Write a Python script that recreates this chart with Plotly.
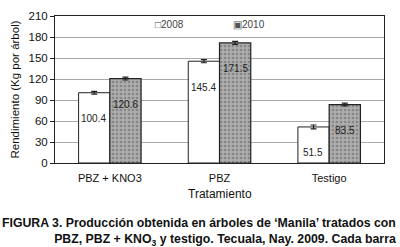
import plotly.graph_objects as go

categories = ["PBZ + KNO3", "PBZ", "Testigo"]
y2008 = [100.4, 145.4, 51.5]
y2010 = [120.6, 171.5, 83.5]
err2008 = [2.0, 2.2, 2.8]
err2010 = [2.0, 2.2, 2.0]
yticks = [0, 30, 60, 90, 120, 150, 180, 210]
series_names = ["2008", "2010"]
label_drop = 37

gray_pattern = dict(shape=".", bgcolor="#adadad", fgcolor="#606060", size=4, solidity=0.35)

fig = go.Figure()
fig.add_trace(go.Bar(
    x=categories, y=y2008, name=series_names[0], showlegend=False,
    marker=dict(color="white", line=dict(color="#222", width=1)),
    error_y=dict(type="data", array=err2008, color="#222", thickness=1.2, width=3),
))
fig.add_trace(go.Bar(
    x=categories, y=y2010, name=series_names[1], showlegend=False,
    marker=dict(color="#9a9a9a", line=dict(color="#222", width=1.2), pattern=gray_pattern),
    error_y=dict(type="data", array=err2010, color="#222", thickness=1.2, width=3),
))

for i, c in enumerate(categories):
    fig.add_annotation(x=c, y=y2008[i] - label_drop, text=f"{y2008[i]:.1f}", showarrow=False,
                       xshift=-16, font=dict(family="Arial", size=10, color="#222"))
    fig.add_annotation(x=c, y=y2010[i] - label_drop, text=f"{y2010[i]:.1f}", showarrow=False,
                       xshift=16, font=dict(family="Arial", size=10, color="#222"))

# legend (compact, marker glued to text as in the original)
fig.add_annotation(xref="paper", yref="paper", x=0.297, y=0.945, xanchor="left", yanchor="middle",
                   text=f"<span style='font-size:10px'>□</span>{series_names[0]}", showarrow=False,
                   font=dict(family="Arial", size=10, color="#444"))
fig.add_annotation(xref="paper", yref="paper", x=0.534, y=0.945, xanchor="left", yanchor="middle",
                   text=f"<span style='font-size:10px;color:#555'>▣</span>{series_names[1]}", showarrow=False,
                   font=dict(family="Arial", size=10, color="#444"))

fig.add_annotation(xref="paper", yref="paper", x=0.5, y=-0.15, yanchor="top",
                   text="Tratamiento", showarrow=False,
                   font=dict(family="Arial", size=12, color="#111"))
fig.add_annotation(xref="paper", yref="paper", x=1.043, y=-0.348, xanchor="right", yanchor="top",
                   align="right",
                   text="<b>FIGURA 3. Producción obtenida en árboles de ‘Manila’ tratados con<br>"
                        "PBZ, PBZ + KNO<sub>3</sub> y testigo. Tecuala, Nay. 2009. Cada barra</b>",
                   showarrow=False,
                   font=dict(family="Arial", size=12.3, color="#111"))

fig.update_layout(
    width=400, height=247,
    margin=dict(l=55, r=16, t=10, b=84),
    paper_bgcolor="white", plot_bgcolor="white",
    barmode="group", bargap=0.43, bargroupgap=0,
    showlegend=False,
    font=dict(family="Arial", color="#111"),
)
fig.update_yaxes(range=[0, 210], tickvals=yticks, showgrid=True, gridcolor="#aaa", gridwidth=1,
                 showline=True, linecolor="#222", linewidth=1, mirror=True,
                 ticks="outside", ticklen=4, tickcolor="#222",
                 tickfont=dict(family="Arial", size=11.5, color="#111"),
                 title=dict(text="Rendimiento (Kg por árbol)", font=dict(family="Arial", size=11.5, color="#111"), standoff=6))
fig.update_xaxes(showline=True, linecolor="#222", linewidth=1, mirror=True,
                 tickfont=dict(family="Arial", size=11, color="#111"), ticks="", ticklabelstandoff=5)

fig.write_html("out.html", config={"displayModeBar": False},
               post_script="document.body.style.margin='0';")
